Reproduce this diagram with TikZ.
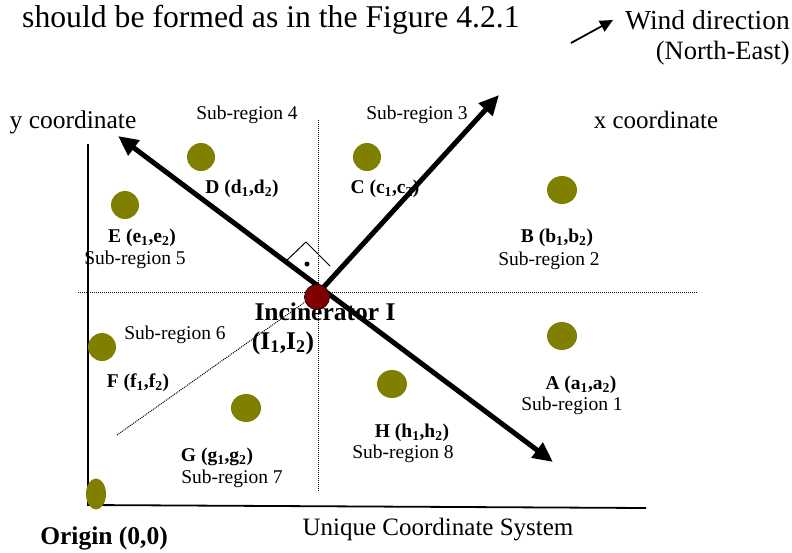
\documentclass[tikz,border=0pt]{standalone}
\usepackage{fontspec}
\setmainfont{Liberation Serif}
\usetikzlibrary{arrows.meta,shapes.geometric}
\definecolor{olivedot}{HTML}{808000}
\definecolor{incred}{HTML}{800000}
\tikzset{
  site/.style={circle, fill=olivedot, inner sep=0pt, minimum size=28pt},
  sub/.style={font=\fontsize{19.5}{22}\selectfont, inner sep=0pt},
  lab/.style={font=\bfseries\fontsize{19.5}{22}\selectfont, inner sep=0pt},
  big/.style={font=\fontsize{25}{28}\selectfont, inner sep=0pt},
  bigbold/.style={font=\bfseries\fontsize{25}{28}\selectfont, inner sep=0pt},
  thickaxis/.style={line width=5pt, -{Triangle[length=20pt,width=18pt]}},
  gridline/.style={densely dotted, line width=1pt},
  frameline/.style={line width=1.8pt},
}
\begin{document}
\begin{tikzpicture}[x=1pt,y=-1pt]
\path[use as bounding box] (0,0) rectangle (792,552);

% headline and wind legend
\node[big, font=\fontsize{31.7}{34}\selectfont, anchor=base west] (head) at (22,27) {should be formed as in the Figure 4.2.1};
\node[big, font=\fontsize{27.5}{30}\selectfont, anchor=base east] (wind) at (790,29) {Wind direction};
\node[big, font=\fontsize{26.5}{30}\selectfont, anchor=base east] (ne) at (790,59) {(North-East)};
\coordinate (wstart) at (571,43);
\coordinate (wtip) at (613,20);
\draw[line width=1.8pt, -{Triangle[length=13pt,width=12pt]}] (wstart) -- (wtip);

% frame of the coordinate system
\coordinate (vtop) at (88,144);
\coordinate (orig) at (88,505);
\coordinate (hend) at (646,508);
\draw[frameline] (vtop) -- (orig) -- (hend);

% dotted division lines
\coordinate (hl) at (78,292);
\coordinate (hr) at (697,292);
\coordinate (vt) at (318,120);
\coordinate (vb) at (318,492);
\coordinate (dl) at (117,435);
\coordinate (dr) at (305,302);
\draw[gridline] (hl) -- (hr);
\draw[gridline] (vt) -- (vb);
\draw[gridline] (dl) -- (dr);

% sub-region labels
\node[sub] (s4) at (247,115) {Sub-region 4};
\node[sub] (s3) at (417,115) {Sub-region 3};
\node[sub] (s5) at (135,260) {Sub-region 5};
\node[sub] (s2) at (549,261) {Sub-region 2};
\node[sub] (s6) at (175,335) {Sub-region 6};
\node[sub] (s1) at (572,406) {Sub-region 1};
\node[sub] (s8) at (403,454) {Sub-region 8};
\node[sub] (s7) at (232,479) {Sub-region 7};

% axis labels
\node[big, font=\fontsize{25.5}{28}\selectfont] (ylab) at (73,122) {y coordinate};
\node[big] (xlab) at (656,120) {x coordinate};
\node[big] (ucs) at (438,530) {Unique Coordinate System};
\node[bigbold, font=\bfseries\fontsize{25.5}{28}\selectfont] (olab) at (104,538) {Origin (0,0)};

% sites
\node[site] (D) at (201,157) {};
\node[site] (C) at (367,157) {};
\node[site] (E) at (125,205) {};
\node[site, ellipse, minimum width=30pt, minimum height=28pt] (B) at (562,190) {};
\node[site, ellipse, minimum width=30pt, minimum height=28pt] (A) at (562,336) {};
\node[site, ellipse, minimum width=30pt, minimum height=28pt] (H) at (392,384) {};
\node[site] (F) at (102,347) {};
\node[site, ellipse, minimum width=30pt, minimum height=28pt] (G) at (246,408) {};
\node[site, ellipse, minimum width=20pt, minimum height=31pt] (O) at (96,494) {};

% site labels
\node[lab] (Dl) at (242,189) {D (d\textsubscript{1},d\textsubscript{2})};
\node[lab] (Cl) at (385,189) {C (c\textsubscript{1},c\textsubscript{2})};
\node[lab] (El) at (142,238) {E (e\textsubscript{1},e\textsubscript{2})};
\node[lab] (Bl) at (557,238) {B (b\textsubscript{1},b\textsubscript{2})};
\node[lab] (Fl) at (138,383) {F (f\textsubscript{1},f\textsubscript{2})};
\node[lab] (Al) at (581,385) {A (a\textsubscript{1},a\textsubscript{2})};
\node[lab] (Hl) at (412,433) {H (h\textsubscript{1},h\textsubscript{2})};
\node[lab] (Gl) at (217,457) {G (g\textsubscript{1},g\textsubscript{2})};
\node[bigbold, font=\bfseries\fontsize{25.5}{30}\selectfont] (Il) at (325,312) {Incinerator I};
\node[bigbold, font=\bfseries\fontsize{25.5}{30}\selectfont] (Ic) at (283,343) {(I\textsubscript{1},I\textsubscript{2})};

% right-angle marker
\coordinate (ra1) at (284,263);
\coordinate (ra2) at (306,242);
\coordinate (ra3) at (330,266);
\draw[line width=1pt] (ra1) -- (ra2) -- (ra3);
\node[circle, fill=black, inner sep=0pt, minimum size=5pt] (radot) at (307,264) {};

% thick arrows
\coordinate (ytip) at (118,136);
\coordinate (setip) at (553,462);
\coordinate (nestart) at (321,290);
\coordinate (xtip) at (499,95);
\draw[line width=5pt, {Triangle[length=20pt,width=18pt]}-{Triangle[length=20pt,width=18pt]}] (ytip) -- (setip);
\draw[thickaxis] (nestart) -- (xtip);

% incinerator
\node[circle, fill=incred, draw=black!70!incred, line width=0.8pt, inner sep=0pt, minimum size=25pt] (I) at (317,297) {};
\end{tikzpicture}
\end{document}
